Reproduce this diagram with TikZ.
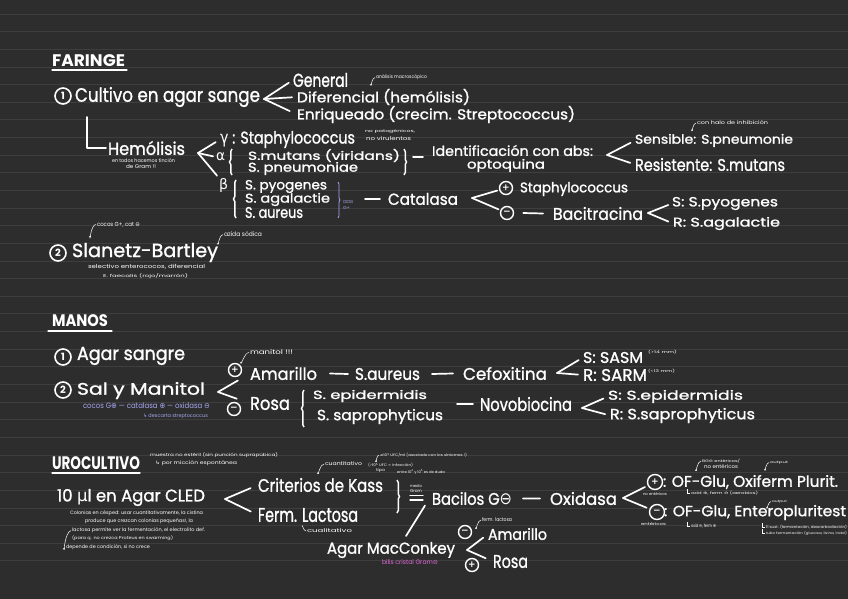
\documentclass[tikz,border=0pt]{standalone}
\usepackage{fontspec}
\usepackage{graphicx}
\setmainfont{Poppins}
\newfontfamily\hand{Poppins}[FakeBold=1.2]
\newfontfamily\sym{DejaVu Sans}
\usetikzlibrary{decorations.pathreplacing,arrows.meta}
\definecolor{bg}{HTML}{2D2D2D}
\definecolor{rulec}{HTML}{3E3E3E}
\definecolor{lav}{HTML}{A6A6F2}
\definecolor{pinkc}{HTML}{E06AD8}
\newcommand\tx[7][white]{\node[tx,text=#1] (#2) at (#3,#4) {\resizebox*{#5pt}{#6pt}{\hand #7}};}
\newcommand\tn[7][white]{\node[tx,text=#1] (#2) at (#3,#4) {\resizebox*{#5pt}{#6pt}{#7}};}
\begin{document}
\begin{tikzpicture}[x=1pt,y=-1pt,
  tx/.style={anchor=north west,inner sep=0pt,outer sep=0pt},
  stroke/.style={white,line width=1.7pt,line cap=round,line join=round},
  fine/.style={white,line width=0.5pt},
  hook/.style={white,line width=0.5pt,-{Stealth[length=2pt,width=2pt]}},
  pm/.style={circle,draw=white,line width=1.4pt,minimum size=13pt,inner sep=0pt,text=white,font=\sym\bfseries\fontsize{9}{9}\selectfont},
  num/.style={circle,draw=white,line width=1.6pt,minimum size=16pt,inner sep=0pt,text=white,font=\bfseries\fontsize{10}{10}\selectfont},
  lbrace/.style={white,line width=1.5pt,decorate,decoration={brace,amplitude=2.5pt}}]
\fill[bg] (0,0) rectangle (848,599);
\useasboundingbox (0,0) rectangle (848,599);
\foreach \k in {0,...,31} \draw[rulec,line width=0.8pt] (0,{14+17.64*\k}) -- (848,{14+17.64*\k});

% ================= FARINGE
\tn{faringe}{52}{55}{73}{12}{\bfseries FARINGE}
\draw[stroke,line width=1.3pt] ([yshift=-3pt]faringe.south west) -- ([yshift=-3pt,xshift=2pt]faringe.south east);
\node[num] (c1) at (63,96) {1};
\tx{cultivo}{75}{87}{185}{20}{Cultivo en agar sange}
\tx{general}{293}{73}{55}{14}{General}
\tn{macro}{376}{75}{51}{5}{análisis macroscópico}
\tx{dif}{297}{89}{173}{16}{Diferencial (hemólisis)}
\tx{enr}{297}{106}{278}{17}{Enriqueado (crecim. Streptococcus)}
\tx{hemo}{108}{141}{77}{14}{Hemólisis}
\tn{hnote1}{112}{159}{63}{4}{en todos hacemos tinción}
\tn{hnote2}{126}{165}{30}{4}{de Gram !!}
\tx{gamma}{220}{131}{135}{17}{{\sym γ} : Staphylococcus}
\tn{np1}{365}{130}{50}{4}{no patogénicos,}
\tn{np2}{366}{136.5}{45}{4}{no virulentos}
\tx{alpha}{216}{153}{9}{8}{{\sym α}}
\tx{mutans}{248}{149}{152}{13}{S.mutans (viridans)}
\tx{pneu}{248}{162}{110}{13}{S. pneumoniae}
\tx{ident}{432}{145}{161}{11}{Identificación con abs:}
\tx{opto}{467}{159}{78}{13}{optoquina}
\tx{sens}{635}{134}{158}{13}{Sensible: S.pneumonie}
\tn{halo}{697}{121}{71}{4}{con halo de inhibición}
\tx{resis}{635}{158}{150}{13}{Resistente: S.mutans}
\tx{beta}{219}{178}{9}{14}{{\sym β}}
\tx{pyog}{245}{180}{82}{13}{S. pyogenes}
\tx{agal}{245}{193}{85}{13}{S. agalactie}
\tx{aur}{245}{207}{58}{11}{S. aureus}
\tn[lav]{cocos1}{343}{201}{10}{3}{cocos}
\tn[lav]{cocos2}{343}{207}{7}{3}{G+}
\tx{cat}{388}{193}{70}{12}{Catalasa}
\node[pm] (p1) at (506,188) {+};
\tx{staph}{520}{182}{108}{14}{Staphylococcus}
\node[pm] (m1) at (507,213) {−};
\tx{bacit}{553}{207}{90}{13}{Bacitracina}
\tx{spyo}{672}{197}{106}{13}{S: S.pyogenes}
\tx{sagal}{673}{217}{107}{13}{R: S.agalactie}
\node[num] (c2) at (58,253) {2};
\tx{slanetz}{72}{243}{146}{19}{Slanetz-Bartley}
\tn{sl1}{97}{222}{43}{5}{cocos G+, cat {\sym ⊖}}
\tn{sl2}{224}{232}{38}{5}{azida sódica}
\tn{sl3}{88}{264}{117}{5}{selectivo enterococos, diferencial}
\tn{sl4}{103}{274}{85}{5}{E. faecalis (rojo/marrón)}

\coordinate (a1) at (264,99);
\draw[stroke,shorten >=5pt] (a1) -- (general.west);
\draw[stroke,shorten >=5pt] (a1) -- (dif.west);
\draw[stroke,shorten >=8pt] (a1) -- (enr.west);
\draw[stroke] ([xshift=12pt,yshift=-10pt]cultivo.south west) |- ([xshift=-2pt]hemo.west);
\coordinate (a2) at (198,153);
\draw[stroke,shorten >=5pt] (a2) -- (gamma.west);
\draw[stroke,shorten >=3pt] (a2) -- (alpha.west);
\draw[stroke,shorten >=3pt] (a2) -- (beta.north west);
\draw[lbrace] ([xshift=-16pt]pneu.south west) -- ([xshift=-16pt]mutans.north west);
\draw[lbrace] ([xshift=4pt]mutans.north east) -- ([xshift=4pt,yshift=-13pt]mutans.south east);
\draw[stroke] ([shift={(-19,6.5)}]ident.west) -- ([shift={(-9,6.5)}]ident.west);
\coordinate (a3) at (607,155);
\draw[stroke,shorten >=5pt] (a3) -- (sens.west);
\draw[stroke,shorten >=5pt] (a3) -- (resis.west);
\draw[lbrace] ([xshift=-9pt]aur.south west) -- ([xshift=-9pt]pyog.north west);
\draw[lav,line width=0.8pt,decorate,decoration={brace,amplitude=2pt}] (338,182) -- (338,218);
\draw[stroke] ([xshift=-23pt]cat.west) -- ([xshift=-8pt]cat.west);
\coordinate (a4) at (472,198);
\draw[stroke,shorten >=2pt] (a4) -- (p1);
\draw[stroke,shorten >=2pt] (a4) -- (m1);
\draw[stroke] ([xshift=9pt]m1.east) -- ([xshift=-10pt]bacit.west);
\coordinate (a5) at (648,213);
\draw[stroke,shorten >=4pt] (a5) -- (spyo.west);
\draw[stroke,shorten >=5pt] (a5) -- (sagal.west);
\draw[hook] ([xshift=-1pt]macro.west) to[out=180,in=-90] +(-4,6);
\draw[hook] ([xshift=-1pt]halo.west) to[out=180,in=-90] +(-4,6);
\draw[hook] ([xshift=-1pt]sl1.west) to[out=180,in=-90] +(-6,11);
\draw[hook] ([xshift=-1pt]sl2.west) to[out=180,in=-90] +(-5,8);

% ================= MANOS
\tn{manos}{52}{315}{56}{12}{\bfseries MANOS}
\draw[stroke,line width=1.3pt] ([shift={(-4,4)}]manos.south west) -- ([shift={(4,4)}]manos.south east);
\node[num] (c3) at (63,357) {1};
\tx{agars}{77}{347}{108}{18}{Agar sangre}
\node[num] (c4) at (63,390) {2};
\tx{salm}{77}{382}{128}{17}{Sal y Manitol}
\tn[lav]{mn1}{83}{403}{127}{6}{cocos G{\sym ⊕} — catalasa {\sym ⊕} — oxidasa {\sym ⊖}}
\tn[lav]{mn2}{143}{414}{65}{5}{{\sym ↳} descarta streptococcus}
\node[pm] (p2) at (235,370) {+};
\node[pm] (m2) at (234,409) {−};
\tn{manit}{250}{350}{43}{5}{manitol !!!}
\tx{amar}{250}{367}{67}{13}{Amarillo}
\tx{saur}{355}{368}{65}{12}{S.aureus}
\tx{cefox}{463}{367}{84}{13}{Cefoxitina}
\tx{sasm}{583}{352}{60}{11}{S: SASM}
\tn{sasmn}{648}{350}{29}{4}{(>14 mm)}
\tx{sarm}{583}{369}{64}{12}{R: SARM}
\tn{sarmn}{648}{369}{27}{4}{(<13 mm)}
\tx{rosa}{250}{397}{40}{13}{Rosa}
\tx{sepi}{313}{390}{114}{12}{S. epidermidis}
\tx{ssap}{317}{409}{126}{15}{S. saprophyticus}
\tx{novo}{480}{397}{92}{14}{Novobiocina}
\tx{sepi2}{608}{390}{135}{13}{S: S.epidermidis}
\tx{ssap2}{610}{408}{145}{15}{R: S.saprophyticus}

\coordinate (a6) at (218,392);
\draw[stroke,shorten >=14pt] (a6) -- (amar.west);
\draw[stroke,shorten >=14pt] (a6) -- (rosa.west);
\draw[stroke] ([xshift=13pt]amar.east) -- ([xshift=-7pt]saur.west);
\draw[stroke] ([xshift=12pt]saur.east) -- ([xshift=-10pt]cefox.west);
\coordinate (a7) at (557,373);
\draw[stroke,shorten >=5pt] (a7) -- (sasm.west);
\draw[stroke,shorten >=5pt] (a7) -- (sarm.west);
\draw[lbrace] ([shift={(-13,3)}]ssap.south west) -- ([shift={(-9,0)}]sepi.north west);
\draw[stroke] ([xshift=-23pt]novo.west) -- ([xshift=-7pt]novo.west);
\coordinate (a8) at (582,408);
\draw[stroke,shorten >=5pt] (a8) -- (sepi2.west);
\draw[stroke,shorten >=5pt] (a8) -- (ssap2.west);
\draw[hook] ([xshift=-1pt]manit.west) to[out=180,in=-90] +(-8,9);

% ================= UROCULTIVO
\tn{uro}{52}{457}{88}{13}{\bfseries UROCULTIVO}
\draw[stroke,line width=1.3pt] ([yshift=-3pt]uro.south west) -- ([yshift=-3pt]uro.south east);
\tn{u1}{150}{453}{128}{5}{muestra no estéril (sin punción suprapúbica)}
\tn{u2}{155}{461}{82}{5}{{\sym ↳} por micción espontánea}
\tx{cled}{57}{489}{148}{17}{10 {\sym µ}l en Agar CLED}
\tn{pa1}{70}{511}{133}{5}{Colonias en césped: usar cuantitativamente, la cistina}
\tn{pa2}{85}{519}{108}{5}{produce que crezcan colonias pequeñas!, la}
\tn{pa3}{72}{528}{133}{5}{lactosa permite ver la fermentación, el electrolito def.}
\tn{pa4}{72}{536}{101}{5}{(para q. no crezca Proteus en swarming)}
\tn{pa5}{66}{545}{84}{5}{depende de condición, si no crece}
\tx{kass}{258}{478}{125}{14}{Criterios de Kass}
\tx{lact}{258}{508}{100}{14}{Ferm. Lactosa}
\tn{cuant}{325}{462}{37}{4}{cuantitativo}
\tn{cual}{307}{529}{45}{4}{cualitativo}
\tn{k1}{380}{453}{87}{4}{{\sym ≥}10\textsuperscript{5} UFC/ml (asociado con los síntomas !)}
\tn{k2}{368}{463}{45}{4}{(>10\textsuperscript{5} UFC = infección)}
\tn{k3}{376}{469}{9}{4}{tipo}
\tn{k4}{397}{470}{48}{4}{entre 10\textsuperscript{4} y 10\textsuperscript{5} es de duda}
\tn{mg1}{410}{485}{12}{3}{medio}
\tn{mg2}{410}{490}{12}{3}{Gram}
\tx{bac}{432}{492}{80}{13}{Bacilos G{\sym ⊖}}
\tx{oxid}{550}{492}{67}{13}{Oxidasa}
\node[pm,minimum size=15pt] (p3) at (655,482) {+};
\tx{of1}{663}{475}{175}{14}{: OF-Glu, Oxiferm Plurit.}
\node[pm,minimum size=15pt] (m3) at (657,512) {−};
\tx{of2}{664}{505}{182}{15}{: OF-Glu, Enteropluritest}
\tn{ne1}{643}{493}{24}{3}{no entéricos}
\tn{ne2}{641}{523}{25}{3}{entéricos}
\tn{bg1}{702}{459}{38}{4}{BG{\sym ⊖} entéricos/}
\tn{bg2}{704}{465}{34}{4}{no entéricos}
\tn{out1}{770}{461}{18}{3}{output}
\tn{ox1}{691}{491}{67}{4}{oxid {\sym ⊕}, ferm {\sym ⊖} (aerobios)}
\tn{ox2}{691}{524}{25}{4}{oxid {\sym ⊖}, ferm {\sym ⊕}}
\tn{out2}{772}{500}{15}{3}{output}
\tn{ep1}{766}{525}{81}{4}{11 sust. (fermentación, descarboxilación)}
\tn{ep2}{766}{531}{81}{4}{tubo fermentación (glucosa, lisina, indol)}
\tx{mac}{327}{542}{128}{16}{Agar MacConkey}
\tn[pinkc]{pk}{382}{560}{56}{5}{bilis cristal Gram{\sym ⊖}}
\node[pm] (m4) at (465,532) {−};
\node[pm] (p4) at (472,565) {+};
\tn{fl}{482}{518}{30}{4}{ferm. lactosa}
\tx{amar2}{488}{528}{59}{12}{Amarillo}
\tx{rosa2}{493}{555}{35}{13}{Rosa}

\coordinate (a9) at (225,499);
\draw[stroke,shorten >=8pt] (a9) -- (kass.west);
\draw[stroke,shorten >=8pt] (a9) -- (lact.west);
\draw[lbrace] ([shift={(14,2)}]kass.north east) -- ([shift={(14,35)}]kass.north east);
\draw[stroke,line width=1.2pt] ([shift={(-22,-3)}]bac.west) -- ([shift={(-9,-3)}]bac.west);
\draw[stroke,line width=1.2pt] ([shift={(-22,1.5)}]bac.west) -- ([shift={(-9,1.5)}]bac.west);
\draw[stroke] ([shift={(-7,7)}]bac.west) -- ([shift={(15,-6)}]mac.north);
\draw[stroke] ([xshift=11pt]bac.east) -- ([xshift=-10pt]oxid.west);
\coordinate (a10) at (623,498);
\draw[stroke,shorten >=3pt] (a10) -- (p3);
\draw[stroke,shorten >=3pt] (a10) -- (m3);
\coordinate (a11) at (467,550);
\draw[stroke,shorten >=6pt] (a11) -- (amar2.west);
\draw[stroke,shorten >=8pt] (a11) -- (rosa2.west);
\draw[hook] ([xshift=-1pt]cuant.west) to[out=180,in=-90] +(-6,8);
\draw[hook] ([xshift=-1pt]k1.west) to[out=180,in=-90] +(-3,5);
\draw[hook] ([xshift=-1pt]bg1.west) to[out=180,in=-90] +(-5,8);
\draw[hook] ([xshift=-1pt]out1.west) to[out=180,in=-90] +(-4,6);
\draw[hook] ([xshift=-1pt]out2.west) to[out=180,in=-90] +(-4,5);
\draw[hook] ([xshift=-1pt]fl.west) to[out=180,in=-90] +(-5,7);
\draw[fine] ([shift={(-5,-5)}]cual.west) to[out=90,in=180] ([xshift=-1pt]cual.west);
\draw[fine] ([shift={(-4,-4)}]ox1.west) |- ([xshift=-1pt]ox1.west);
\draw[fine] ([shift={(-4,-4)}]ox2.west) |- ([xshift=-1pt]ox2.west);
\draw[fine] ([shift={(-4,-4)}]ep1.west) |- ([xshift=-1pt]ep1.west);
\draw[fine] ([shift={(-4,-4)}]ep2.west) |- ([xshift=-1pt]ep2.west);
\draw[hook] ([xshift=-1pt]pa3.west) to[out=200,in=-90] ([xshift=-2pt]pa5.west);
\end{tikzpicture}
\end{document}
